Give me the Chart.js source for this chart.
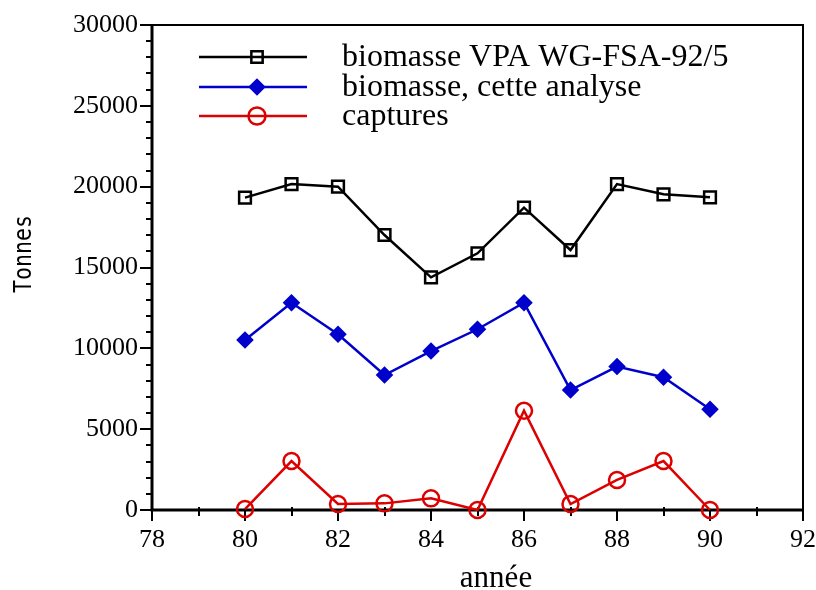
<!DOCTYPE html>
<html>
<head>
<meta charset="utf-8">
<script src="https://cdn.jsdelivr.net/npm/chart.js@4/dist/chart.umd.min.js"></script>
<style>
  html, body { margin: 0; padding: 0; background: #fff; }
  #wrap { width: 816px; height: 590px; }
</style>
</head>
<body>
<div id="wrap"><canvas id="c" width="816" height="590"></canvas></div>
<script>
// ---- data ----
const years = [80, 81, 82, 83, 84, 85, 86, 87, 88, 89, 90];
const biomasseVPA = [19320, 20160, 20000, 17010, 14390, 15880, 18700, 16080, 20160, 19530, 19340];
const biomasseAnalyse = [10520, 12820, 10870, 8350, 9830, 11180, 12820, 7420, 8870, 8210, 6230];
const captures = [60, 3030, 370, 410, 720, 0, 6140, 370, 1860, 3030, 0];
const seriesLabels = ['biomasse VPA WG-FSA-92/5', 'biomasse, cette analyse', 'captures'];
const xTicks = [78, 80, 82, 84, 86, 88, 90, 92];
const yTicks = [0, 5000, 10000, 15000, 20000, 25000, 30000];
const yMinorStep = 1000;
const xMinorStep = 1;
const xTitle = 'année';
const yTitle = 'Tonnes';

const toPts = (vals) => years.map((yr, i) => ({x: yr, y: vals[i]}));

const FONT = '"Liberation Serif", "Times New Roman", serif';

const framePlugin = {
  id: 'frame',
  beforeDatasetsDraw(chart) {
    const {ctx, chartArea: a, scales: {x, y}} = chart;
    ctx.save();
    ctx.strokeStyle = '#000';
    ctx.lineCap = 'butt';
    ctx.lineWidth = 2;
    ctx.beginPath();
    ctx.moveTo(a.left, a.top);
    ctx.lineTo(a.right, a.top);
    ctx.lineTo(a.right, a.bottom);
    ctx.stroke();
    for (let v = y.min; v <= y.max; v += yMinorStep) {
      const py = Math.round(y.getPixelForValue(v));
      const major = yTicks.includes(v);
      ctx.beginPath();
      ctx.moveTo(a.left - (major ? 12 : 6), py);
      ctx.lineTo(a.left, py);
      ctx.stroke();
    }
    for (let v = x.min; v <= x.max; v += xMinorStep) {
      const px = Math.round(x.getPixelForValue(v));
      const major = xTicks.includes(v);
      ctx.beginPath();
      ctx.moveTo(px, a.bottom + (major ? 11 : 6));
      ctx.lineTo(px, major ? a.bottom : a.bottom - 3);
      ctx.stroke();
    }
    ctx.lineWidth = 3;
    ctx.beginPath();
    ctx.moveTo(a.left, a.top - 1);
    ctx.lineTo(a.left, a.bottom);
    ctx.lineTo(a.right + 1, a.bottom);
    ctx.stroke();
    ctx.restore();
  },
  afterDraw(chart) {
    const {ctx} = chart;
    ctx.save();
    const rowsY = [57, 87, 116];
    chart.data.datasets.forEach((ds, i) => {
      const ly = rowsY[i];
      ctx.strokeStyle = ds.borderColor;
      ctx.lineWidth = 2.5;
      ctx.beginPath();
      ctx.moveTo(199, ly);
      ctx.lineTo(307, ly);
      ctx.stroke();
      ctx.fillStyle = ds.pointBackgroundColor;
      ctx.strokeStyle = ds.pointBorderColor;
      ctx.lineWidth = ds.pointBorderWidth;
      Chart.helpers.drawPoint(ctx, {
        pointStyle: ds.pointStyle,
        radius: ds.legendRadius,
        rotation: 0,
        borderWidth: ds.pointBorderWidth
      }, 257, ly);
      ctx.fillStyle = '#000';
      ctx.font = '32px ' + FONT;
      ctx.textAlign = 'left';
      ctx.textBaseline = 'alphabetic';
      ctx.fillText(ds.label, 342, ly + 9);
    });
    ctx.fillStyle = '#000';
    ctx.font = '31px ' + FONT;
    ctx.textAlign = 'center';
    ctx.textBaseline = 'alphabetic';
    ctx.fillText(xTitle, 496, 587);
    ctx.save();
    ctx.translate(23, 254);
    ctx.rotate(-Math.PI / 2);
    ctx.font = '25px "DejaVu Sans Mono", monospace';
    const w = ctx.measureText(yTitle).width;
    ctx.scale(78 / w, 1);
    ctx.textAlign = 'center';
    ctx.textBaseline = 'middle';
    ctx.fillText(yTitle, 0, 1);
    ctx.restore();
    ctx.restore();
  }
};

const mk = (label, vals, color, style, radius, legendRadius, fill) => ({
  label,
  data: toPts(vals),
  borderColor: color,
  backgroundColor: color,
  borderWidth: 2.5,
  pointStyle: style,
  pointRadius: radius,
  pointHoverRadius: radius,
  legendRadius,
  pointBorderWidth: 2.5,
  pointBorderColor: color,
  pointBackgroundColor: fill ? color : 'rgba(0,0,0,0)',
  tension: 0,
  clip: false
});

new Chart(document.getElementById('c'), {
  type: 'line',
  data: {
    datasets: [
      mk(seriesLabels[0], biomasseVPA, '#000000', 'rect', 8.3, 8, false),
      mk(seriesLabels[1], biomasseAnalyse, '#0000cc', 'rectRot', 7, 7, true),
      mk(seriesLabels[2], captures, '#dd0000', 'circle', 8, 8.5, false)
    ]
  },
  options: {
    responsive: false,
    animation: false,
    events: [],
    layout: { padding: { top: 25, right: 13, left: 0, bottom: 0 } },
    plugins: { legend: { display: false }, tooltip: { enabled: false } },
    scales: {
      x: {
        type: 'linear',
        min: 78, max: 92,
        afterBuildTicks: (s) => { s.ticks = xTicks.map(v => ({value: v})); },
        afterFit: (s) => { s.height = 80; s.paddingLeft = 0; s.paddingRight = 0; },
        grid: { display: false },
        border: { display: false },
        ticks: {
          color: '#000',
          font: { family: FONT, size: 26 },
          padding: 7,
          maxRotation: 0,
          autoSkip: false,
          callback: (v) => String(v)
        }
      },
      y: {
        min: 0, max: 30000,
        afterBuildTicks: (s) => { s.ticks = yTicks.map(v => ({value: v})); },
        afterFit: (s) => { s.width = 152; s.paddingTop = 0; s.paddingBottom = 0; },
        grid: { display: false },
        border: { display: false },
        ticks: {
          color: '#000',
          font: { family: FONT, size: 26 },
          padding: 6,
          autoSkip: false,
          callback: (v) => String(v)
        }
      }
    }
  },
  plugins: [framePlugin]
});
</script>
</body>
</html>
